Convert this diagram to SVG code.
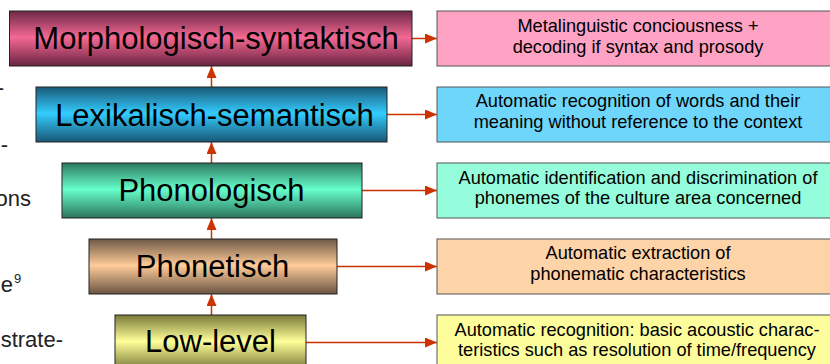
<svg xmlns="http://www.w3.org/2000/svg" width="830" height="364" viewBox="0 0 830 364">
<style>
.lbl{font-family:"Liberation Sans",Arial,sans-serif;font-size:31px;fill:#000;text-anchor:middle}
.desc{font-family:"Liberation Sans",Arial,sans-serif;font-size:18.2px;fill:#000;text-anchor:middle}
.frag{font-family:"Liberation Sans",Arial,sans-serif;font-size:22px;fill:#222;text-anchor:end}
.lb{stroke:#222;stroke-width:1}
.rb{stroke:#555;stroke-width:1}
.conn{stroke:#cc3300;stroke-width:1.5;fill:none;marker-end:url(#ah)}
</style>
<defs>
<marker id="ah" markerUnits="userSpaceOnUse" markerWidth="12" markerHeight="10" refX="12" refY="5" orient="auto">
<path d="M0,0 L12,5 L0,10 z" fill="#cc3300"/>
</marker>
<linearGradient id="gM" x1="0" y1="0" x2="0" y2="1"><stop offset="0" stop-color="#6e2846"/><stop offset="0.48" stop-color="#f46893"/><stop offset="1" stop-color="#6a2442"/></linearGradient>
<linearGradient id="gL" x1="0" y1="0" x2="0" y2="1"><stop offset="0" stop-color="#1a5a78"/><stop offset="0.48" stop-color="#33ccff"/><stop offset="1" stop-color="#185674"/></linearGradient>
<linearGradient id="gP" x1="0" y1="0" x2="0" y2="1"><stop offset="0" stop-color="#2e7860"/><stop offset="0.48" stop-color="#66ffcc"/><stop offset="1" stop-color="#2c745c"/></linearGradient>
<linearGradient id="gT" x1="0" y1="0" x2="0" y2="1"><stop offset="0" stop-color="#6e5846"/><stop offset="0.48" stop-color="#ffcc99"/><stop offset="1" stop-color="#6a5442"/></linearGradient>
<linearGradient id="gW" x1="0" y1="0" x2="0" y2="1"><stop offset="0" stop-color="#7a7a3a"/><stop offset="0.48" stop-color="#ffff99"/><stop offset="1" stop-color="#767636"/></linearGradient>
</defs>
<rect width="830" height="364" fill="#fff"/>
<g id="fragments">
<text class="frag" x="4" y="95">-</text>
<text class="frag" x="8" y="152">-</text>
<text class="frag" x="31" y="206">ons</text>
<text class="frag" x="13" y="292">e</text>
<text x="14" y="283" style="font-family:'Liberation Sans',Arial,sans-serif;font-size:13px;fill:#222">9</text>
<text class="frag" x="63" y="347">strate-</text>
</g>
<g id="connectors">
<line class="conn" x1="211.5" y1="87" x2="211.5" y2="66"/>
<line class="conn" x1="211.5" y1="163" x2="211.5" y2="142"/>
<line class="conn" x1="211.5" y1="239" x2="211.5" y2="218"/>
<line class="conn" x1="211.5" y1="315" x2="211.5" y2="294"/>
<line class="conn" x1="412" y1="38.5" x2="437" y2="38.5"/>
<line class="conn" x1="387" y1="114.5" x2="437" y2="114.5"/>
<line class="conn" x1="362" y1="190.5" x2="437" y2="190.5"/>
<line class="conn" x1="337" y1="266.5" x2="437" y2="266.5"/>
<line class="conn" x1="306" y1="342.5" x2="437" y2="342.5"/>
</g>
<g id="morph">
<rect class="lb" x="9.5" y="11" width="402.5" height="55" fill="url(#gM)"/>
<text class="lbl" x="216" y="49.3">Morphologisch-syntaktisch</text>
</g>
<g id="lexikal">
<rect class="lb" x="36" y="87" width="351" height="55" fill="url(#gL)"/>
<text class="lbl" x="214.5" y="126">Lexikalisch-semantisch</text>
</g>
<g id="phonolog">
<rect class="lb" x="62" y="163" width="300" height="55" fill="url(#gP)"/>
<text class="lbl" x="211.5" y="200.7">Phonologisch</text>
</g>
<g id="phonet">
<rect class="lb" x="89" y="239" width="248" height="55" fill="url(#gT)"/>
<text class="lbl" x="212.5" y="276.7">Phonetisch</text>
</g>
<g id="lowlevel">
<rect class="lb" x="115" y="315" width="191" height="55" fill="url(#gW)"/>
<text class="lbl" x="210.5" y="352">Low-level</text>
</g>
<g id="d-morph">
<rect class="rb" x="437" y="11" width="402" height="55" fill="#ffa3c4"/>
<text class="desc" x="638" y="31.7">Metalinguistic conciousness +</text>
<text class="desc" x="638" y="52.5">decoding if syntax and prosody</text>
</g>
<g id="d-lexikal">
<rect class="rb" x="437" y="87" width="402" height="55" fill="#6fd6fb"/>
<text class="desc" x="638" y="107.3">Automatic recognition of words and their</text>
<text class="desc" x="638" y="127.7">meaning without reference to the context</text>
</g>
<g id="d-phonolog">
<rect class="rb" x="437" y="163" width="402" height="55" fill="#95fddb"/>
<text class="desc" x="638" y="183.5">Automatic identification and discrimination of</text>
<text class="desc" x="638" y="204">phonemes of the culture area concerned</text>
</g>
<g id="d-phonet">
<rect class="rb" x="437" y="239" width="402" height="55" fill="#fdd3a8"/>
<text class="desc" x="638" y="259.3">Automatic extraction of</text>
<text class="desc" x="638" y="279.5">phonematic characteristics</text>
</g>
<g id="d-lowlevel">
<rect class="rb" x="437" y="315" width="402" height="55" fill="#fdfd9c"/>
<text class="desc" x="637" y="335.7">Automatic recognition: basic acoustic charac-</text>
<text class="desc" x="637" y="355.5">teristics such as resolution of time/frequency</text>
</g>
</svg>
